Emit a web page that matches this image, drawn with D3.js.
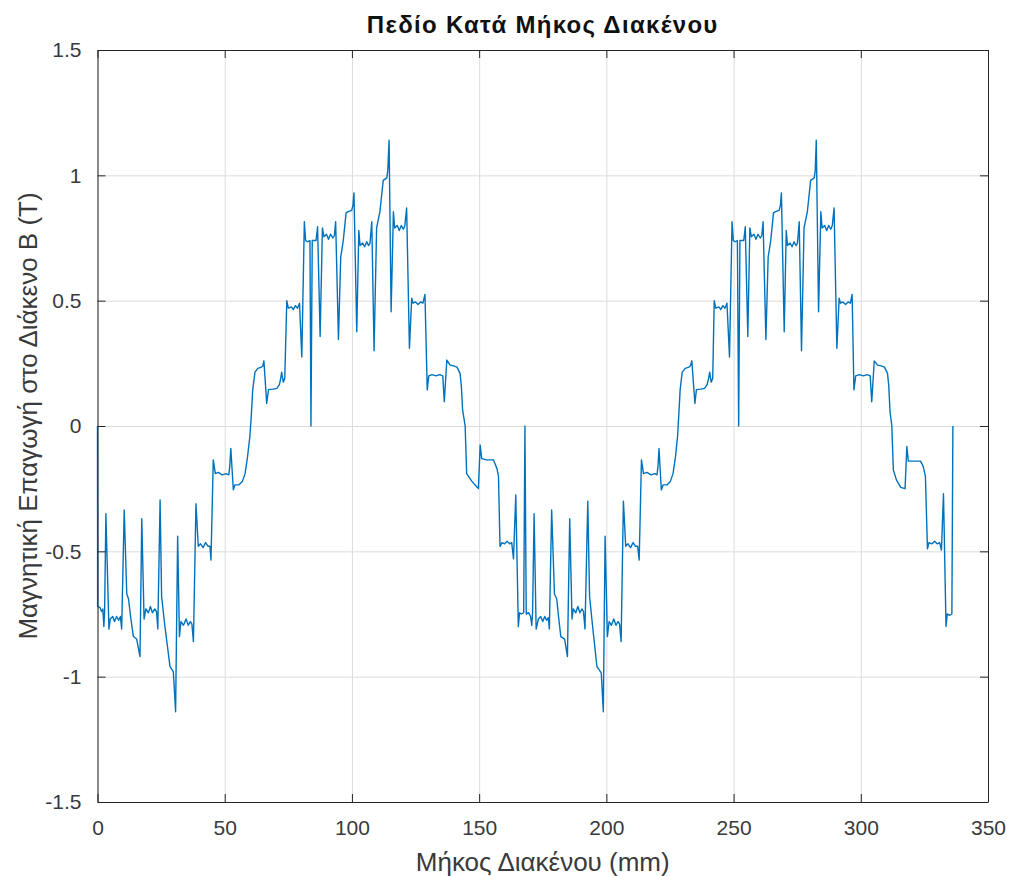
<!DOCTYPE html>
<meta charset="utf-8">

<style>
  body { margin: 0; background: white; }
  text { font-family: "Liberation Sans", Arial, sans-serif; fill: #262626; }
  .grid line { stroke: #dcdcdc; stroke-width: 1; }
  .grid path { display: none; }
  .axis path, .axis line { stroke: #262626; stroke-width: 1; }
  .trace { fill: none; stroke: #0072bd; stroke-width: 1.4; stroke-linejoin: round; }
</style>

<body>
  <script src="https://d3js.org/d3.v7.min.js"></script>

  <script type="application/javascript">
    // first period, 0 - 168 mm
    var gapPos1 = [0, 0.05, 1.0, 1.6, 2.1, 2.5, 2.8, 3.3, 4.5, 5.0, 6.0, 6.7, 7.5, 8.3, 9.0, 9.5,
      10.5, 11.5, 12.2, 13.0, 14.1, 15.4, 16.7, 17.4, 18.3, 19.0, 20.0, 20.8, 21.6, 22.5, 23.2, 23.7,
      24.6, 25.2, 26.5, 28.5, 29.8, 30.7, 31.5, 32.2, 32.8, 33.8, 34.8, 35.7, 36.5, 37.1, 37.7,
      38.7, 39.6, 40.5, 41.5, 42.5, 43.5, 44.2, 44.6, 45.5, 46.3, 47.5, 49.0, 50.5, 51.6, 52.0,
      52.4, 53.4, 54.0, 55.5, 57.0, 58.0, 59.0, 59.9, 60.5, 61.0, 61.9, 63.0, 64.5, 65.0, 65.4,
      66.5, 67.2, 69.0, 70.5, 71.5, 72.0, 72.4, 73.0, 73.6, 74.4, 75.0, 76.2, 77.0, 77.8, 78.6,
      79.4, 80.3, 81.3, 81.8, 82.5, 83.5, 83.9, 84.4, 85.9, 86.5, 87.5, 88.4, 89.0, 90.0, 90.8,
      91.6, 92.5, 93.1, 93.6, 94.7, 95.6, 96.0, 96.6, 97.7, 98.5, 99.9, 100.4, 100.8, 101.9,
      102.7, 103.2, 104.2, 105.0, 105.8, 106.5, 107.1, 107.8, 108.7, 109.7, 111.0, 112.3, 113.7,
      114.1, 114.6, 115.4, 116.3, 116.8, 117.8, 118.6, 119.4, 120.2, 120.8, 121.5, 122.6, 123.5,
      124.0, 125.0, 126.0, 127.0, 127.9, 128.7, 129.6, 130.2, 131.5, 133.0, 134.5, 135.7, 136.3,
      137.3, 138.6, 140.0, 141.3, 142.5, 143.0, 143.5, 144.5, 145.1, 147.1, 149.3, 149.7, 150.4,
      151.0, 153.0, 155.6, 156.2, 157.0, 157.6, 158.2, 159.0, 160.0, 161.0, 162.0, 162.8, 163.5,
      164.4, 165.4, 165.9, 166.6, 167.5];
    var fluxB1 = [0, -0.72, -0.725, -0.74, -0.73, -0.80, -0.74, -0.35, -0.81, -0.77, -0.76, -0.78, -0.76, -0.775, -0.76, -0.81,
      -0.335, -0.67, -0.69, -0.76, -0.84, -0.85, -0.92, -0.37, -0.77, -0.73, -0.745, -0.72, -0.745, -0.73, -0.74, -0.81,
      -0.295, -0.68, -0.80, -0.96, -0.98, -1.14, -0.44, -0.84, -0.78, -0.795, -0.77, -0.795, -0.78, -0.79, -0.86,
      -0.31, -0.48, -0.47, -0.485, -0.465, -0.48, -0.48, -0.535, -0.135, -0.19, -0.185, -0.195, -0.19, -0.195, -0.16,
      -0.09, -0.255, -0.235, -0.235, -0.22, -0.19, -0.12, -0.04, 0.05, 0.144, 0.215, 0.23, 0.235, 0.24, 0.26,
      0.09, 0.145, 0.147, 0.15, 0.165, 0.19, 0.215, 0.175, 0.19, 0.50, 0.47, 0.475, 0.465, 0.48, 0.47,
      0.49, 0.275, 0.815, 0.74, 0.735, 0.74, 0, 0.74, 0.74, 0.795, 0.357, 0.79, 0.755, 0.765, 0.745,
      0.765, 0.75, 0.76, 0.815, 0.345, 0.675, 0.70, 0.74, 0.85, 0.855, 0.86, 0.88, 0.93, 0.376,
      0.78, 0.72, 0.73, 0.715, 0.735, 0.72, 0.73, 0.815, 0.30, 0.79, 0.855, 0.98, 0.99,
      1.02, 1.14, 0.456, 0.855, 0.79, 0.80, 0.78, 0.80, 0.785, 0.80, 0.87, 0.31, 0.51,
      0.49, 0.495, 0.485, 0.495, 0.49, 0.525, 0.144, 0.2, 0.205, 0.2, 0.205, 0.2, 0.097,
      0.263, 0.243, 0.24, 0.235, 0.21, 0.16, 0.064, 0, -0.19, -0.22, -0.245, -0.25, -0.076,
      -0.13, -0.135, -0.135, -0.15, -0.17, -0.20, -0.48, -0.465, -0.47, -0.46, -0.47, -0.465, -0.53,
      -0.275, -0.80, -0.745, -0.75, -0.745];

    // second period, 168 - 336 mm
    var gapPos2 = [168.0, 168.5, 169.5, 170.2, 170.7, 171.0, 171.6, 172.4, 173.3, 174.2, 175.0, 175.8, 176.5, 177.2, 177.6,
      178.5, 179.6, 180.5, 181.2, 182.1, 183.6, 184.7, 185.6, 186.5, 187.0, 188.0, 188.8, 189.6, 190.4, 191.0, 191.6,
      192.7, 193.4, 194.6, 196.3, 198.0, 198.8, 199.5, 200.4, 201.1, 202.0, 202.9, 203.8, 204.6, 205.2, 205.8,
      206.7, 207.6, 208.5, 209.5, 210.5, 211.5, 212.3, 212.9, 213.8, 214.6, 216.0, 217.5, 219.0, 219.9, 220.3,
      220.7, 221.6, 222.3, 223.8, 225.2, 226.2, 227.2, 228.0, 228.5, 229.0, 229.8, 231.0, 232.5, 233.0, 233.6,
      234.8, 235.4, 237.0, 238.6, 239.6, 240.2, 240.6, 241.2, 241.8, 242.4, 243.0, 244.2, 245.0, 245.8, 246.6,
      247.4, 248.4, 249.4, 249.9, 250.6, 251.5, 252.0, 252.5, 254.0, 254.6, 255.6, 256.4, 257.0, 258.0, 258.8,
      259.6, 260.5, 261.1, 261.6, 262.7, 263.6, 264.0, 264.6, 265.7, 266.5, 267.9, 268.4, 268.8, 269.9,
      270.7, 271.2, 272.2, 273.0, 273.8, 274.5, 275.1, 275.8, 276.7, 277.7, 279.0, 280.3, 281.7,
      282.1, 282.5, 283.4, 284.3, 284.8, 285.8, 286.6, 287.4, 288.2, 288.8, 289.5, 290.6, 291.5,
      292.0, 293.0, 294.0, 295.0, 295.9, 296.6, 297.3, 298.0, 299.5, 301.0, 302.5, 303.7, 304.3,
      305.3, 306.6, 308.0, 309.3, 310.5, 311.0, 311.5, 312.2, 312.8, 314.0, 315.7, 317.4, 318.1,
      318.7, 321.0, 323.5, 324.5, 325.4, 326.2, 326.8, 328.0, 329.0, 330.0, 331.0, 331.7,
      332.5, 333.5, 334.0, 335.0, 335.8, 336.2];
    var fluxB2 = [0, -0.75, -0.745, -0.76, -0.795, -0.745, -0.35, -0.81, -0.77, -0.76, -0.78, -0.76, -0.775, -0.765, -0.81,
      -0.335, -0.67, -0.69, -0.76, -0.84, -0.85, -0.92, -0.37, -0.77, -0.73, -0.745, -0.72, -0.745, -0.73, -0.74, -0.81,
      -0.30, -0.68, -0.80, -0.96, -0.985, -1.14, -0.44, -0.84, -0.78, -0.795, -0.77, -0.795, -0.78, -0.79, -0.86,
      -0.30, -0.48, -0.47, -0.485, -0.465, -0.48, -0.48, -0.535, -0.135, -0.19, -0.185, -0.195, -0.19, -0.195, -0.16,
      -0.09, -0.255, -0.235, -0.235, -0.22, -0.19, -0.12, -0.04, 0.05, 0.144, 0.215, 0.23, 0.235, 0.24, 0.26,
      0.09, 0.145, 0.147, 0.15, 0.165, 0.19, 0.215, 0.175, 0.19, 0.50, 0.47, 0.475, 0.465, 0.48, 0.47,
      0.49, 0.275, 0.815, 0.74, 0.735, 0.74, 0, 0.74, 0.74, 0.795, 0.357, 0.79, 0.755, 0.765, 0.745,
      0.765, 0.75, 0.76, 0.815, 0.345, 0.675, 0.70, 0.74, 0.85, 0.855, 0.86, 0.88, 0.93, 0.376,
      0.78, 0.72, 0.73, 0.715, 0.735, 0.72, 0.73, 0.815, 0.30, 0.79, 0.855, 0.98, 0.99,
      1.02, 1.14, 0.456, 0.855, 0.79, 0.80, 0.78, 0.80, 0.785, 0.80, 0.87, 0.31, 0.51,
      0.49, 0.495, 0.485, 0.495, 0.49, 0.525, 0.144, 0.2, 0.205, 0.2, 0.205, 0.2, 0.097,
      0.26, 0.243, 0.24, 0.235, 0.21, 0.16, 0.057, 0, -0.175, -0.215, -0.245, -0.25, -0.082,
      -0.14, -0.14, -0.14, -0.16, -0.20, -0.49, -0.465, -0.47, -0.46, -0.47, -0.465, -0.495,
      -0.27, -0.80, -0.75, -0.755, -0.75, 0];

    var xTicks = [0, 50, 100, 150, 200, 250, 300, 350];
    var yTicks = [-1.5, -1, -0.5, 0, 0.5, 1, 1.5];

    var titleText = "Πεδίο Κατά Μήκος Διακένου";
    var xLabel = "Μήκος Διακένου (mm)";
    var yLabel = "Μαγνητική Επαγωγή στο Διάκενο B (T)";

    var width = 1009,
        height = 876,
        margin = { top: 50, right: 21, bottom: 74, left: 97.5 };
    var w = width - margin.left - margin.right,
        h = height - margin.top - margin.bottom;

    var points = [];
    gapPos1.forEach(function(x, i) { points.push([x, fluxB1[i]]); });
    gapPos2.forEach(function(x, i) { points.push([x, fluxB2[i]]); });

    var svg = d3.select("body").append("svg")
                .attr("width", width)
                .attr("height", height);

    var g = svg.append("g")
               .attr("transform", "translate(" + margin.left + "," + margin.top + ")");

    var x = d3.scaleLinear().domain([0, 350]).range([0, w]);
    var y = d3.scaleLinear().domain([-1.5, 1.5]).range([h, 0]);

    // grid
    g.append("g").attr("class", "grid")
     .attr("transform", "translate(0," + h + ")")
     .call(d3.axisBottom(x).tickValues(xTicks).tickSize(-h).tickFormat(""));
    g.append("g").attr("class", "grid")
     .call(d3.axisLeft(y).tickValues(yTicks).tickSize(-w).tickFormat(""));

    var line = d3.line()
                 .x(function(d) { return x(d[0]); })
                 .y(function(d) { return y(d[1]); });

    g.append("path")
     .datum(points)
     .attr("class", "trace")
     .attr("d", line);

    // box with inward ticks on all four sides
    var fmt = function(d) { return String(d); };
    g.append("g").attr("class", "axis")
     .attr("transform", "translate(0," + h + ")")
     .call(d3.axisBottom(x).tickValues(xTicks).tickSizeInner(-8).tickSizeOuter(0).tickPadding(18).tickFormat(fmt));
    g.append("g").attr("class", "axis")
     .call(d3.axisLeft(y).tickValues(yTicks).tickSizeInner(-8).tickSizeOuter(0).tickPadding(16).tickFormat(fmt));
    g.append("g").attr("class", "axis")
     .call(d3.axisTop(x).tickValues(xTicks).tickSizeInner(-8).tickSizeOuter(0).tickFormat(""));
    g.append("g").attr("class", "axis")
     .attr("transform", "translate(" + w + ",0)")
     .call(d3.axisRight(y).tickValues(yTicks).tickSizeInner(-8).tickSizeOuter(0).tickFormat(""));

    svg.selectAll(".axis text")
       .style("font-size", "21px")
       .style("fill", "#3a3a3a");

    svg.append("text")
       .attr("x", margin.left + w / 2)
       .attr("y", 33)
       .attr("text-anchor", "middle")
       .style("font-size", "24px")
       .style("font-weight", "bold")
       .style("letter-spacing", "1.3px")
       .style("fill", "#111")
       .text(titleText);

    svg.append("text")
       .attr("x", margin.left + w / 2)
       .attr("y", 871)
       .attr("text-anchor", "middle")
       .style("font-size", "26px")
       .style("fill", "#3a3a3a")
       .text(xLabel);

    svg.append("text")
       .attr("transform", "translate(37," + (margin.top + h / 2 - 10) + ") rotate(-90)")
       .attr("text-anchor", "middle")
       .style("font-size", "26px")
       .style("fill", "#3a3a3a")
       .text(yLabel);
  </script>
</body>
